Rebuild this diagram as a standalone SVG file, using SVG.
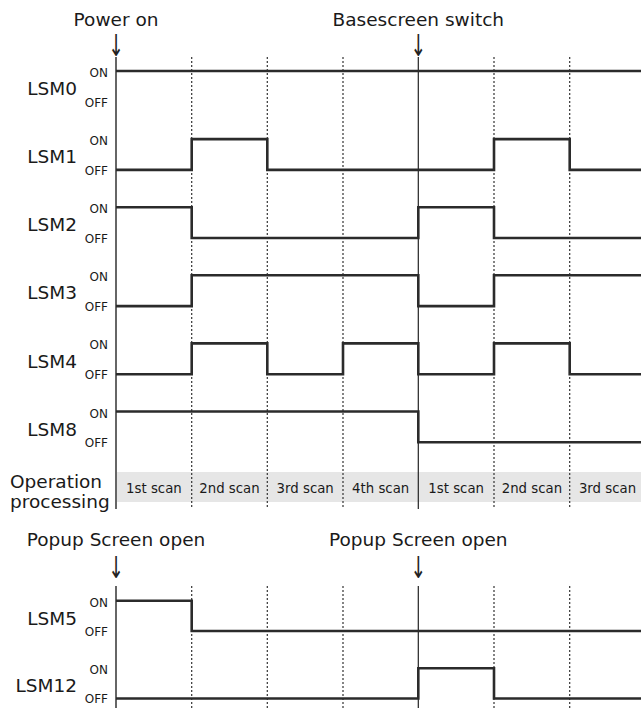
<svg xmlns="http://www.w3.org/2000/svg" width="641" height="708" viewBox="0 0 641 708">
<style>
text{font-family:"DejaVu Sans",Verdana,sans-serif;fill:#1a1a1a}
.big{font-size:18.5px}
.lbl{font-size:18.5px;text-anchor:end}
.st{font-size:12px;text-anchor:end}
.scan{font-size:13.3px;text-anchor:middle}
.ev{font-size:18.5px;text-anchor:middle}
.arr{font-family:"DejaVu Sans",sans-serif;font-size:22px;text-anchor:middle;fill:#222}
.axis{stroke:#666;stroke-width:2;fill:none}
.dash{stroke:#333;stroke-width:1.2;stroke-dasharray:2,2;fill:none}
.solid{stroke:#222;stroke-width:1.2;fill:none}
.sig{stroke:#2b2b2b;stroke-width:2.6;fill:none;stroke-linejoin:miter}
</style>
<rect x="0" y="0" width="641" height="708" fill="#fff"/>
<g id="band">
<rect x="116" y="472" width="525" height="30" fill="#e6e6e6"/>
</g>
<g id="grid">
<path class="dash" d="M191.7 57V509M267.3 57V509M343 57V509M494 57V509M569.7 57V509"/>
<path class="solid" d="M418.3 57V509"/>
<path class="dash" d="M191.7 586V708M267.3 586V708M343 586V708M494 586V708M569.7 586V708"/>
<path class="solid" d="M418.3 586V708"/>
<path class="axis" d="M116 57V509M116 586V708"/>
</g>
<g id="events">
<text class="ev" x="116" y="26">Power on</text>
<text class="arr" transform="translate(116,55.8) scale(0.85,1.38)">↓</text>
<text class="ev" x="418.3" y="26">Basescreen switch</text>
<text class="arr" transform="translate(418.3,55.8) scale(0.85,1.38)">↓</text>
<text class="ev" x="116" y="546">Popup Screen open</text>
<text class="arr" transform="translate(116,577.8) scale(0.85,1.38)">↓</text>
<text class="ev" x="418.3" y="546">Popup Screen open</text>
<text class="arr" transform="translate(418.3,577.8) scale(0.85,1.38)">↓</text>
</g>
<g id="LSM0">
<text class="lbl" x="77" y="95">LSM0</text>
<text class="st" x="108" y="77">ON</text>
<text class="st" x="108" y="107">OFF</text>
<path class="sig" d="M116 71H641"/>
</g>
<g id="LSM1">
<text class="lbl" x="77" y="163.2">LSM1</text>
<text class="st" x="108" y="145.1">ON</text>
<text class="st" x="108" y="175">OFF</text>
<path class="sig" d="M116 169.9H191.7V139.1H267.3V169.9H494V139.1H569.7V169.9H641"/>
</g>
<g id="LSM2">
<text class="lbl" x="77" y="231.3">LSM2</text>
<text class="st" x="108" y="213.2">ON</text>
<text class="st" x="108" y="243.1">OFF</text>
<path class="sig" d="M116 207.2H191.7V238H418.3V207.2H494V238H641"/>
</g>
<g id="LSM3">
<text class="lbl" x="77" y="299.4">LSM3</text>
<text class="st" x="108" y="281.3">ON</text>
<text class="st" x="108" y="311.2">OFF</text>
<path class="sig" d="M116 306.1H191.7V275.3H418.3V306.1H494V275.3H641"/>
</g>
<g id="LSM4">
<text class="lbl" x="77" y="367.5">LSM4</text>
<text class="st" x="108" y="349.4">ON</text>
<text class="st" x="108" y="379.3">OFF</text>
<path class="sig" d="M116 374.2H191.7V343.4H267.3V374.2H343V343.4H418.3V374.2H494V343.4H569.7V374.2H641"/>
</g>
<g id="LSM8">
<text class="lbl" x="77" y="435.6">LSM8</text>
<text class="st" x="108" y="417.5">ON</text>
<text class="st" x="108" y="447.4">OFF</text>
<path class="sig" d="M116 411.5H418.3V442.3H641"/>
</g>
<g id="operation">
<text class="big" x="10" y="488">Operation</text>
<text class="big" x="10" y="508">processing</text>
<text class="scan" x="153.9" y="492.5">1st scan</text>
<text class="scan" x="229.5" y="492.5">2nd scan</text>
<text class="scan" x="305.2" y="492.5">3rd scan</text>
<text class="scan" x="380.7" y="492.5">4th scan</text>
<text class="scan" x="456.2" y="492.5">1st scan</text>
<text class="scan" x="531.9" y="492.5">2nd scan</text>
<text class="scan" x="607.5" y="492.5">3rd scan</text>
</g>
<g id="LSM5">
<text class="lbl" x="77" y="624.5">LSM5</text>
<text class="st" x="108" y="606.7">ON</text>
<text class="st" x="108" y="636">OFF</text>
<path class="sig" d="M116 600.7H191.7V631H641"/>
</g>
<g id="LSM12">
<text class="lbl" x="77" y="692">LSM12</text>
<text class="st" x="108" y="674.3">ON</text>
<text class="st" x="108" y="703.3">OFF</text>
<path class="sig" d="M116 698.5H418.3V668.3H494V698.5H641"/>
</g>
</svg>
